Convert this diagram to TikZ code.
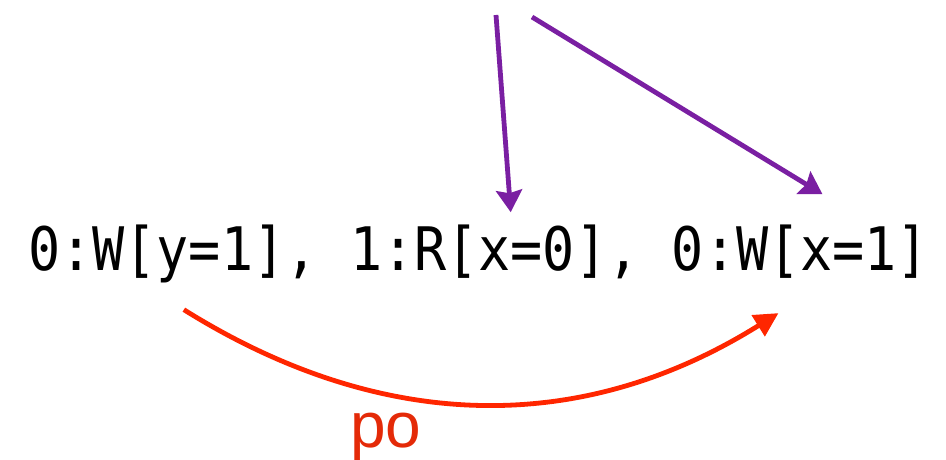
\documentclass[tikz,border=0pt]{standalone}
\usepackage{fontspec}
\setsansfont{Liberation Sans}
\newfontfamily\evfont{DejaVu Sans Mono}[FakeStretch=0.89]
\usetikzlibrary{arrows.meta, positioning}
\definecolor{RfLine}{RGB}{122,31,162}
\definecolor{PoLine}{RGB}{255,38,0}
\definecolor{PoText}{RGB}{228,42,8}
\tikzset{
  % memory events, one node per event
  ev/.style={inner sep=0pt, font=\fontsize{60}{72}\selectfont\evfont},
  % relation labels
  relLabel/.style={inner sep=0pt, font=\fontsize{64}{76}\selectfont\sffamily},
  rfArr/.style={-{Stealth[length=22pt, width=26pt, inset=3pt]}, draw=RfLine, line width=4.8pt},
  poArr/.style={-{Triangle[length=24pt, width=24pt]}, draw=PoLine, line width=4.8pt}
}
\begin{document}
\begin{tikzpicture}[x=1pt, y=1pt]
  \useasboundingbox (0,0) rectangle (946,459);

  %% ── Events ────────────────────────────────────────────
  \node[ev, anchor=base west] (wy) at (28,189) {0:W[y=1],};
  \node[ev, base right=32.1pt of wy] (rx) {1:R[x=0],};
  \node[ev, base right=32.1pt of rx] (wx) {0:W[x=1]};

  %% ── Incoming rf edges ─────────────────────────────────
  \coordinate (src1) at (496,444);
  \coordinate (src2) at (532,442);
  \draw[rfArr] (src1) -- ([xshift=16pt, yshift=12pt]rx.north);
  \draw[rfArr] (src2) -- ([xshift=22pt, yshift=30pt]wx.north);

  %% ── Program order ─────────────────────────────────────
  \draw[poArr] ([xshift=11pt, yshift=-27pt]wy.south)
    to[out=-32, in=-148] ([xshift=-22pt, yshift=-35pt]wx.south);
  \node[relLabel, text=PoText, anchor=base] (po) at (386,12) {po};

\end{tikzpicture}
\end{document}
